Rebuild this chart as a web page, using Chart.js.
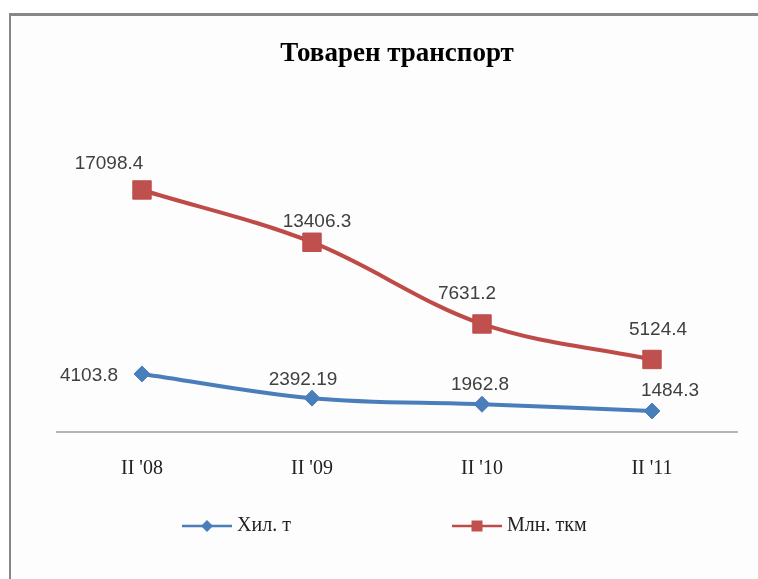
<!DOCTYPE html>
<html>
<head>
<meta charset="utf-8">
<script src="https://cdn.jsdelivr.net/npm/chart.js@4.4.1/dist/chart.umd.min.js"></script>
<style>
  html, body { margin: 0; padding: 0; background: #fff; overflow: hidden; }
  #marco { position: absolute; left: 9px; top: 13px; width: 800px; height: 600px;
           border-top: 3px solid #878787; border-left: 2px solid #878787; background: #fdfdfd; }
  #grafico { position: absolute; left: 0; top: 0; }
</style>
</head>
<body>
<div id="marco"></div>
<canvas id="grafico" width="758" height="579"></canvas>
<script>
const periodos = ["II '08", "II '09", "II '10", "II '11"];
const hilT = [4103.8, 2392.19, 1962.8, 1484.3];
const mlnTkm = [17098.4, 13406.3, 7631.2, 5124.4];
const nombres = ['Хил. т', 'Млн. ткм'];
const titulo = 'Товарен транспорт';

// desplazamiento de cada etiqueta (px) respecto a su punto
const desplazamientos = [
    [[-53, 2], [-9, -18], [-2, -19], [18, -20]],
    [[-33, -26], [5, -20], [-15, -30], [6, -30]]
];

const SERIF = '"Liberation Serif", "Times New Roman", serif';
const SANS = '"Liberation Sans", Arial, sans-serif';

const etiquetas = {
    id: 'etiquetas',
    afterDatasetsDraw(chart) {
        const ctx = chart.ctx;
        ctx.save();
        ctx.font = '19px ' + SANS;
        ctx.fillStyle = '#404040';
        ctx.textAlign = 'center';
        ctx.textBaseline = 'middle';
        chart.data.datasets.forEach((ds, i) => {
            chart.getDatasetMeta(i).data.forEach((pt, j) => {
                const o = desplazamientos[i][j];
                ctx.fillText(String(ds.data[j]), pt.x + o[0], pt.y + o[1]);
            });
        });
        ctx.restore();
    }
};

// leyenda estilo Excel: línea + marcador + texto
const leyenda = {
    id: 'leyenda',
    afterDraw(chart) {
        const ctx = chart.ctx;
        const y = chart.chartArea.bottom + 94;
        const inicios = [182, 452];
        chart.data.datasets.forEach((ds, i) => {
            const x0 = inicios[i];
            const cx = x0 + 25;
            ctx.save();
            ctx.strokeStyle = ds.borderColor;
            ctx.lineWidth = 2.5;
            ctx.beginPath();
            ctx.moveTo(x0, y);
            ctx.lineTo(x0 + 50, y);
            ctx.stroke();
            ctx.fillStyle = ds.backgroundColor;
            ctx.beginPath();
            if (ds.pointStyle === 'rectRot') {
                ctx.moveTo(cx - 6, y);
                ctx.lineTo(cx, y - 6);
                ctx.lineTo(cx + 6, y);
                ctx.lineTo(cx, y + 6);
                ctx.closePath();
            } else {
                ctx.rect(cx - 5.5, y - 5.5, 11, 11);
            }
            ctx.fill();
            ctx.font = '20px ' + SERIF;
            ctx.fillStyle = '#222';
            ctx.textAlign = 'left';
            ctx.textBaseline = 'middle';
            ctx.fillText(ds.label, x0 + 55, y);
            ctx.restore();
        });
    }
};

new Chart(document.getElementById('grafico'), {
    type: 'line',
    data: {
        labels: periodos,
        datasets: [{
            label: nombres[0],
            data: hilT,
            borderColor: '#4a7ebb',
            backgroundColor: '#4a7ebb',
            borderWidth: 4,
            pointStyle: 'rectRot',
            pointRadius: 8,
            pointHoverRadius: 8,
            pointBorderWidth: 1,
            tension: 0.35
        }, {
            label: nombres[1],
            data: mlnTkm,
            borderColor: '#be4b48',
            backgroundColor: '#c0504d',
            borderWidth: 4,
            pointStyle: 'rect',
            pointRadius: 13,
            pointHoverRadius: 13,
            pointBorderWidth: 1,
            tension: 0.35
        }]
    },
    options: {
        responsive: false,
        animation: false,
        layout: { autoPadding: false, padding: { left: 57, right: 21, top: 0, bottom: 74 } },
        plugins: {
            legend: { display: false },
            tooltip: { enabled: false },
            title: {
                display: true,
                text: titulo,
                color: '#000',
                font: { family: SERIF, size: 27, weight: 'bold' },
                padding: { top: 37.5, bottom: 79 }
            }
        },
        scales: {
            x: {
                offset: true,
                grid: { display: false, drawTicks: false, offset: true },
                border: { display: true, color: '#b3b3b3', width: 2 },
                ticks: { padding: 24.5, maxRotation: 0, color: '#222', font: { family: SERIF, size: 20 } }
            },
            y: { display: false, min: 0, max: 20000 }
        }
    },
    plugins: [etiquetas, leyenda]
});
</script>
</body>
</html>
